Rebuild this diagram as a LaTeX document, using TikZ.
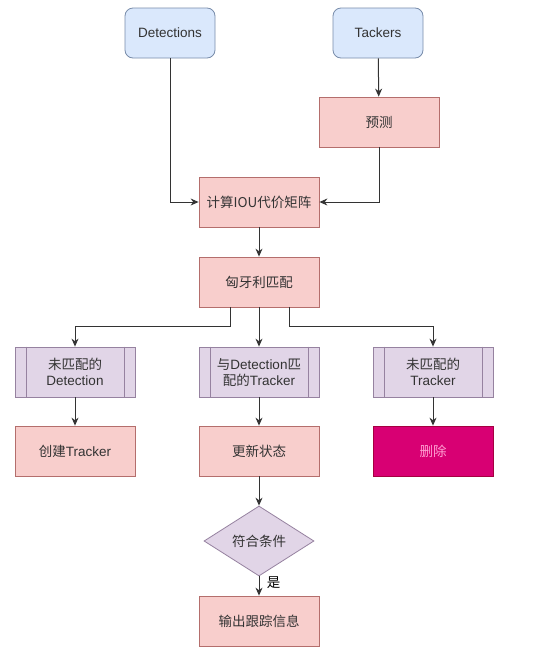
\documentclass[tikz,border=0pt]{standalone}
\usepackage{fontspec}
\setmainfont{Liberation Sans}
\newfontfamily\cjk{Noto Sans CJK SC}
\usetikzlibrary{shapes.geometric,arrows.meta,calc}
\definecolor{bfill}{RGB}{218,232,252}
\definecolor{bline}{RGB}{120,140,170}
\definecolor{pfill}{RGB}{248,206,204}
\definecolor{pline}{RGB}{180,110,108}
\definecolor{vfill}{RGB}{225,213,231}
\definecolor{vline}{RGB}{150,130,160}
\definecolor{mfill}{RGB}{216,0,115}
\definecolor{mline}{RGB}{165,0,64}
\definecolor{mtext}{RGB}{255,160,210}
\begin{document}
\begin{tikzpicture}[x=1pt,y=-1pt,
  font=\fontsize{13.5}{16}\selectfont,
  base/.style={minimum width=120pt,minimum height=50pt,inner sep=2pt,align=center,text=black!80,line width=0.8pt},
  bluebox/.style={base,fill=bfill,draw=bline,rounded corners=8pt,minimum width=90pt},
  pinkbox/.style={base,fill=pfill,draw=pline},
  procbox/.style={base,fill=vfill,draw=vline},
  delbox/.style={base,fill=mfill,draw=mline,text=mtext},
  decision/.style={diamond,aspect=1.57,minimum width=110pt,minimum height=70pt,inner sep=0pt,fill=vfill,draw=vline,line width=0.8pt,text=black!80},
  arr/.style={-{Stealth[length=8pt,width=7pt]},line width=1pt,draw=black!80},
  bar/.style={draw=vline,line width=0.8pt}
]
\useasboundingbox (0,0) rectangle (536,659);
\fill[white] (0,0) rectangle (536,659);

\node[bluebox] (det) at (170,33) {Detections};
\node[bluebox] (trk) at (378,33) {Tackers};
\node[pinkbox] (pred) at (379,122) {\cjk 预测};
\node[pinkbox] (iou) at (259,202) {\cjk 计算IOU代价矩阵};
\node[pinkbox] (hung) at (259,282) {\cjk 匈牙利匹配};
\node[procbox] (ud) at (75,372) {{\cjk 未匹配的}\\Detection};
\node[procbox] (md) at (259,372) {{\cjk 与}Detection{\cjk 匹}\\{\cjk 配的}Tracker};
\node[procbox] (ut) at (433,372) {{\cjk 未匹配的}\\Tracker};
\foreach \n in {ud,md,ut}{
  \draw[bar] ([xshift=12pt]\n.north west) -- ([xshift=12pt]\n.south west);
  \draw[bar] ([xshift=-11pt]\n.north east) -- ([xshift=-11pt]\n.south east);
}
\node[pinkbox] (create) at (75,451) {{\cjk 创建}Tracker};
\node[pinkbox] (upd) at (259,451) {\cjk 更新状态};
\node[delbox] (del) at (433,451) {\cjk 删除};
\node[decision] (cond) at (259,541) {\cjk 符合条件};
\node[pinkbox] (out) at (259,621) {\cjk 输出跟踪信息};

\draw[arr] (trk) -- (pred);
\draw[arr] (det.south) |- (iou.west);
\draw[arr] (pred.south) |- (iou.east);
\draw[arr] (iou) -- (hung);
\draw[arr] ([xshift=-29pt]hung.south) -- ++(0,19) -| (ud.north);
\draw[arr] (hung) -- (md);
\draw[arr] ([xshift=30pt]hung.south) -- ++(0,19) -| (ut.north);
\draw[arr] (ud) -- (create);
\draw[arr] (md) -- (upd);
\draw[arr] (ut) -- (del);
\draw[arr] (upd) -- (cond);
\draw[arr] (cond) -- node[right=4pt,pos=0.3,font=\cjk\fontsize{13.5}{16}\selectfont] (yes) {是} (out);
\end{tikzpicture}
\end{document}
